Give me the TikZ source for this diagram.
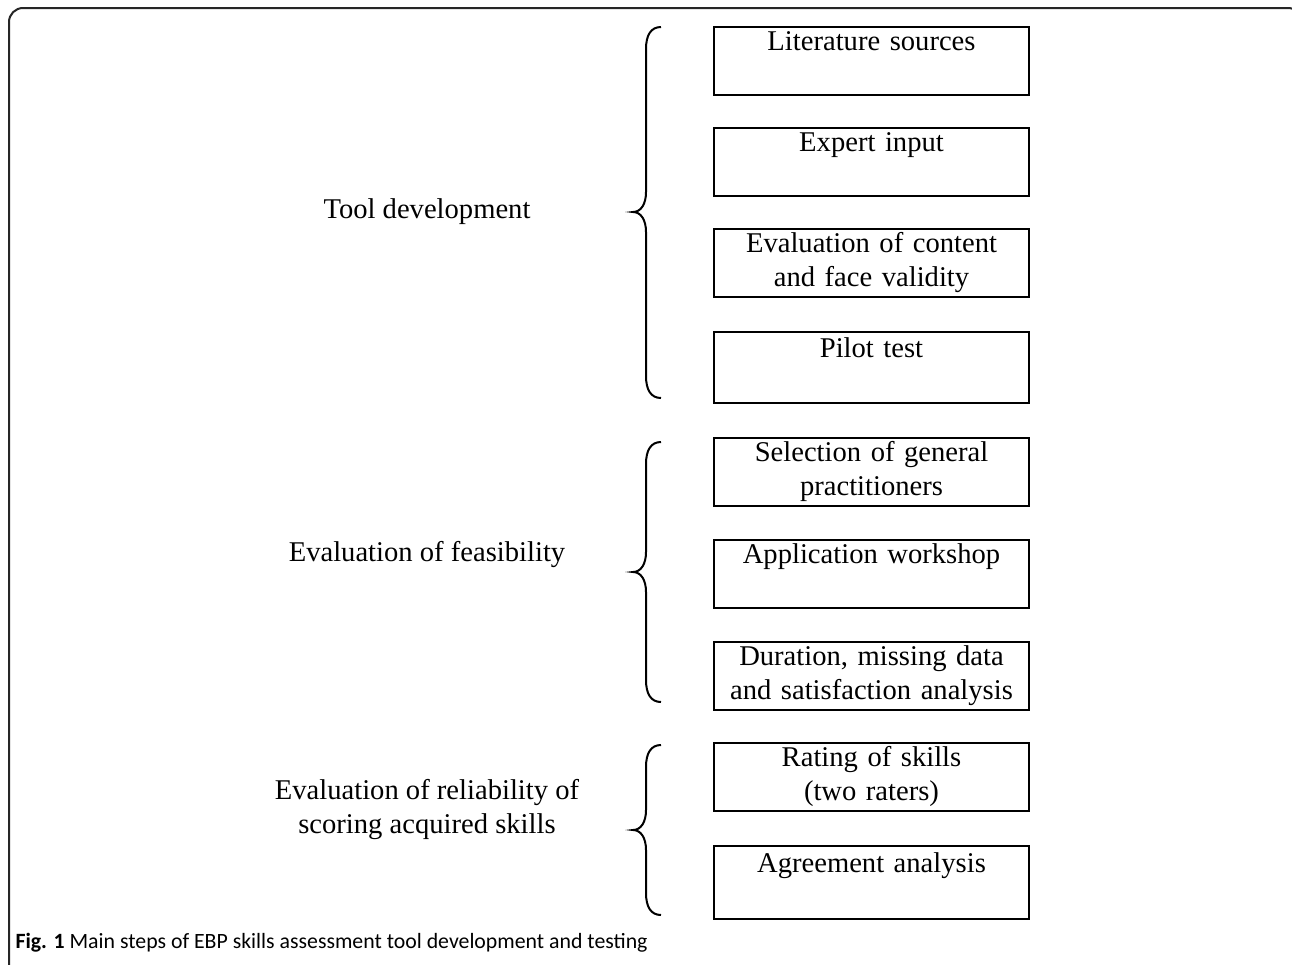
\documentclass[tikz,border=0pt]{standalone}
\usepackage{fontspec}
\setmainfont{Liberation Serif}
\newfontfamily\capfont{Carlito}
\tikzset{
  stepbox/.style = {draw, line width=2.2pt, rectangle, text width=315pt,
    minimum height=67pt, inner sep=0pt, align=center, anchor=north,
    font=\fontsize{28.6}{34}\selectfont},
  phase/.style = {align=center, font=\fontsize{28.6}{34}\selectfont},
  curly/.style = {line width=2pt},
  frame/.style = {line width=2pt, draw=black!85, rounded corners=14pt}
}
% curly brace: top, tip, bottom
\newcommand{\gbrace}[3]{%
  \draw[curly] (661,#1) .. controls (651,#1) and (646,#1+8) .. (646,#1+22)
    -- (646,#2-20) .. controls (646,#2-8) and (641,#2) .. (633,#2)
    .. controls (641,#2) and (646,#2+8) .. (646,#2+20)
    -- (646,#3-22) .. controls (646,#3-8) and (651,#3) .. (661,#3);}

\begin{document}
\begin{tikzpicture}[x=1pt, y=-1pt]
  \useasboundingbox (0,0) rectangle (1292,964);
  \clip (0,0) rectangle (1292,964);
  \draw[frame] (9,1000) -- (9,8) -- (1302,8) -- (1302,1000);

  % tool development
  \node[stepbox] (lit) at (871.5,26) {\strut Literature sources\\\strut};
  \node[stepbox] (expert) at (871.5,127) {\strut Expert input\\\strut};
  \node[stepbox] (valid) at (871.5,228) {\strut Evaluation of content\\\strut and face validity};
  \node[stepbox, minimum height=71pt] (pilot) at (871.5,331) {\strut Pilot test\\\strut};
  \node[phase] (tool) at (427,212) {Tool development};
  \gbrace{27}{212}{398}

  % feasibility
  \node[stepbox] (select) at (871.5,437) {\strut Selection of general\\\strut practitioners};
  \node[stepbox] (workshop) at (871.5,539) {\strut Application workshop\\\strut};
  \node[stepbox] (duration) at (871.5,641) {\strut Duration, missing data\\\strut and satisfaction analysis};
  \node[phase] (feas) at (427,555) {Evaluation of feasibility};
  \gbrace{442}{572}{702}

  % reliability
  \node[stepbox] (rating) at (871.5,742) {\strut Rating of skills\\\strut (two raters)};
  \node[stepbox, minimum height=73pt] (agree) at (871.5,845) {\strut Agreement analysis\\\strut};
  \node[phase] (rel) at (427,810) {Evaluation of reliability of\\scoring acquired skills};
  \gbrace{745}{830}{915}

  \node[anchor=base west, font=\capfont\fontsize{21.8}{26}\selectfont] (cap) at (12,948)
    {\textbf{Fig. 1} Main steps of EBP skills assessment tool development and testing};
\end{tikzpicture}
\end{document}
